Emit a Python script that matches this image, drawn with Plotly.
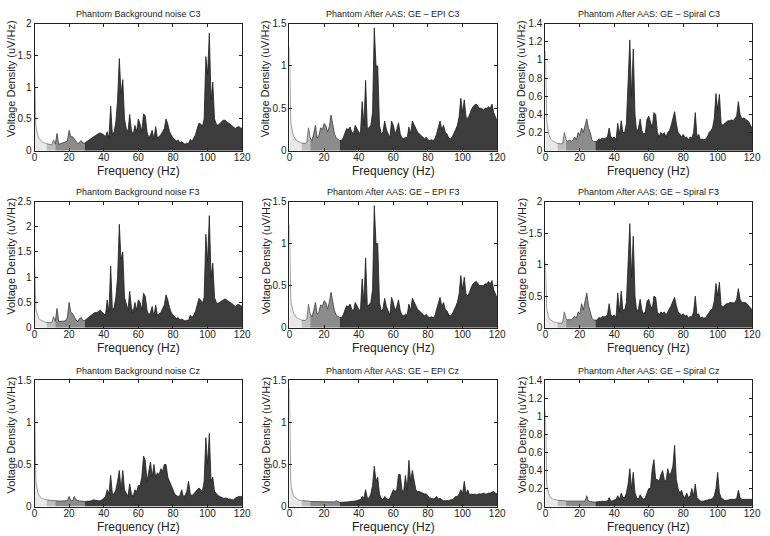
import plotly.graph_objects as go

W, H = 770, 536

# Frequency grid (Hz): finer near 0 Hz, 1 Hz steps from 4 Hz to 120 Hz
FREQ_LOW = [0, 0.25, 0.5, 0.75, 1, 1.5, 2, 2.5, 3, 3.5]
FREQ = FREQ_LOW + list(range(4, 121))

# ---- spectra (uV/Hz) ----
bg_c3 = [1.38, 0.75, 0.52, 0.42, 0.36, 0.28, 0.23, 0.2, 0.18, 0.16,
         0.15, 0.13, 0.12, 0.11, 0.1, 0.09, 0.09, 0.17, 0.1, 0.27,
         0.1, 0.11, 0.12, 0.12, 0.13, 0.15, 0.32, 0.22, 0.22, 0.19,
         0.15, 0.11, 0.14, 0.16, 0.12, 0.12, 0.14, 0.16, 0.17, 0.2,
         0.22, 0.24, 0.25, 0.27, 0.28, 0.27, 0.25, 0.22, 0.3, 0.2,
         0.7, 0.25, 0.3, 0.45, 0.8, 1.45, 0.9, 1.12, 0.5, 0.35,
         0.3, 0.57, 0.32, 0.25, 0.4, 0.3, 0.5, 0.42, 0.3, 0.58,
         0.55, 0.3, 0.2, 0.25, 0.32, 0.18, 0.38, 0.2, 0.22, 0.25,
         0.3, 0.35, 0.5, 0.42, 0.3, 0.25, 0.2, 0.18, 0.15, 0.17,
         0.12, 0.14, 0.12, 0.1, 0.12, 0.11, 0.18, 0.15, 0.2, 0.25,
         0.35, 0.43, 0.42, 0.38, 0.5, 1.48, 1.2, 1.85, 0.8, 1.08,
         0.5, 0.42, 0.4, 0.42, 0.45, 0.48, 0.48, 0.46, 0.44, 0.42,
         0.4, 0.37, 0.35, 0.37, 0.38, 0.36, 0.35]

epi_c3 = [1.22, 0.7, 0.45, 0.35, 0.3, 0.23, 0.2, 0.17, 0.15, 0.13,
          0.12, 0.11, 0.1, 0.09, 0.085, 0.085, 0.1, 0.27, 0.15, 0.12,
          0.2, 0.3, 0.15, 0.18, 0.27, 0.25, 0.32, 0.3, 0.22, 0.28,
          0.42, 0.3, 0.2, 0.15, 0.13, 0.12, 0.12, 0.15, 0.2, 0.26,
          0.25, 0.28, 0.22, 0.2, 0.3, 0.25, 0.22, 0.2, 0.58, 0.3,
          0.83, 0.25, 0.27, 0.3, 0.45, 1.45, 1.0, 1.0, 0.3, 0.2,
          0.22, 0.35, 0.25, 0.2, 0.15, 0.35, 0.3, 0.2, 0.25, 0.33,
          0.2, 0.15, 0.14, 0.16, 0.15, 0.28, 0.2, 0.35, 0.3, 0.25,
          0.22, 0.2, 0.18, 0.15, 0.14, 0.16, 0.13, 0.12, 0.13, 0.12,
          0.14, 0.2, 0.28, 0.35, 0.25, 0.3, 0.22, 0.2, 0.15, 0.14,
          0.16, 0.2, 0.25, 0.3, 0.4, 0.62, 0.45, 0.6, 0.4, 0.38,
          0.42, 0.48, 0.52, 0.54, 0.55, 0.52, 0.5, 0.5, 0.48, 0.5,
          0.5, 0.52, 0.5, 0.55, 0.45, 0.4, 0.35]

spiral_c3 = [1.1, 0.6, 0.45, 0.35, 0.3, 0.22, 0.18, 0.15, 0.13, 0.12,
             0.11, 0.1, 0.09, 0.08, 0.075, 0.075, 0.08, 0.2, 0.12, 0.1,
             0.12, 0.1, 0.12, 0.15, 0.12, 0.2, 0.17, 0.25, 0.2, 0.28,
             0.35, 0.25, 0.2, 0.12, 0.1, 0.1, 0.1, 0.13, 0.12, 0.14,
             0.13, 0.14, 0.15, 0.25, 0.15, 0.14, 0.15, 0.12, 0.3, 0.18,
             0.33, 0.2, 0.2, 0.3, 0.7, 1.22, 0.6, 1.12, 0.4, 0.2,
             0.25, 0.35, 0.22, 0.18, 0.2, 0.35, 0.38, 0.3, 0.25, 0.42,
             0.4, 0.2, 0.15, 0.2, 0.18, 0.2, 0.15, 0.2, 0.22, 0.28,
             0.35, 0.43, 0.3, 0.2, 0.18, 0.15, 0.18, 0.14, 0.15, 0.12,
             0.15, 0.14, 0.2, 0.42, 0.15, 0.18, 0.12, 0.13, 0.12, 0.13,
             0.15, 0.2, 0.22, 0.25, 0.35, 0.63, 0.45, 0.62, 0.3, 0.28,
             0.3, 0.32, 0.33, 0.33, 0.34, 0.33, 0.35, 0.38, 0.54, 0.4,
             0.35, 0.36, 0.35, 0.33, 0.32, 0.28, 0.25]

bg_f3 = [1.33, 0.7, 0.5, 0.4, 0.33, 0.26, 0.21, 0.18, 0.16, 0.15,
         0.14, 0.12, 0.11, 0.1, 0.1, 0.09, 0.1, 0.22, 0.12, 0.38,
         0.12, 0.12, 0.13, 0.13, 0.14, 0.2, 0.5, 0.3, 0.28, 0.2,
         0.15, 0.12, 0.18, 0.2, 0.14, 0.14, 0.17, 0.2, 0.22, 0.25,
         0.28, 0.3, 0.3, 0.32, 0.35, 0.3, 0.28, 0.25, 0.55, 0.3,
         1.22, 0.35, 0.4, 0.6, 1.0, 2.05, 1.35, 1.5, 0.6, 0.45,
         0.35, 0.72, 0.4, 0.3, 0.5, 0.35, 0.55, 0.5, 0.35, 0.68,
         0.62, 0.35, 0.25, 0.3, 0.42, 0.22, 0.45, 0.25, 0.28, 0.3,
         0.38, 0.45, 0.65, 0.55, 0.4, 0.3, 0.25, 0.22, 0.18, 0.2,
         0.15, 0.17, 0.15, 0.13, 0.15, 0.14, 0.25, 0.2, 0.25, 0.32,
         0.45, 0.58, 0.55, 0.48, 0.6, 1.85, 1.3, 2.22, 1.0, 1.28,
         0.6, 0.5, 0.48, 0.5, 0.52, 0.55, 0.57, 0.55, 0.52, 0.5,
         0.48, 0.45, 0.42, 0.45, 0.46, 0.44, 0.42]

epi_f3 = [1.22, 0.68, 0.45, 0.35, 0.3, 0.23, 0.2, 0.17, 0.15, 0.13,
          0.12, 0.11, 0.1, 0.09, 0.085, 0.085, 0.1, 0.28, 0.16, 0.13,
          0.2, 0.3, 0.16, 0.18, 0.27, 0.25, 0.32, 0.3, 0.22, 0.3,
          0.42, 0.3, 0.2, 0.15, 0.13, 0.12, 0.12, 0.15, 0.2, 0.26,
          0.25, 0.28, 0.22, 0.2, 0.3, 0.25, 0.22, 0.2, 0.58, 0.3,
          0.83, 0.25, 0.27, 0.3, 0.45, 1.45, 1.0, 1.0, 0.3, 0.2,
          0.22, 0.35, 0.25, 0.2, 0.15, 0.36, 0.3, 0.2, 0.25, 0.33,
          0.2, 0.15, 0.14, 0.16, 0.15, 0.28, 0.2, 0.35, 0.3, 0.25,
          0.22, 0.2, 0.18, 0.15, 0.14, 0.16, 0.13, 0.12, 0.13, 0.12,
          0.14, 0.22, 0.3, 0.36, 0.25, 0.3, 0.22, 0.2, 0.15, 0.14,
          0.16, 0.2, 0.25, 0.3, 0.4, 0.62, 0.45, 0.6, 0.4, 0.38,
          0.42, 0.48, 0.52, 0.54, 0.55, 0.52, 0.5, 0.5, 0.5, 0.52,
          0.52, 0.55, 0.52, 0.56, 0.45, 0.4, 0.35]

spiral_f3 = [1.05, 0.55, 0.4, 0.32, 0.27, 0.2, 0.16, 0.13, 0.12, 0.11,
             0.1, 0.09, 0.08, 0.075, 0.07, 0.07, 0.08, 0.25, 0.14, 0.12,
             0.13, 0.12, 0.15, 0.18, 0.15, 0.25, 0.22, 0.38, 0.28, 0.4,
             0.55, 0.35, 0.25, 0.15, 0.12, 0.12, 0.12, 0.16, 0.15, 0.18,
             0.17, 0.18, 0.2, 0.38, 0.2, 0.18, 0.2, 0.16, 0.55, 0.25,
             0.58, 0.28, 0.28, 0.4, 0.95, 1.65, 0.8, 1.45, 0.5, 0.25,
             0.3, 0.45, 0.28, 0.22, 0.25, 0.42, 0.45, 0.35, 0.3, 0.5,
             0.48, 0.25, 0.2, 0.25, 0.22, 0.25, 0.2, 0.25, 0.28, 0.35,
             0.42, 0.48, 0.35, 0.25, 0.22, 0.2, 0.22, 0.18, 0.2, 0.15,
             0.18, 0.17, 0.25, 0.5, 0.2, 0.22, 0.15, 0.17, 0.15, 0.16,
             0.2, 0.25, 0.28, 0.3, 0.42, 0.7, 0.5, 0.72, 0.35, 0.33,
             0.36, 0.38, 0.38, 0.4, 0.4, 0.39, 0.4, 0.45, 0.62, 0.45,
             0.4, 0.4, 0.4, 0.38, 0.35, 0.32, 0.28]

bg_cz = [1.35, 0.7, 0.45, 0.33, 0.27, 0.2, 0.16, 0.14, 0.12, 0.11,
         0.1, 0.09, 0.085, 0.08, 0.08, 0.075, 0.07, 0.07, 0.07, 0.065,
         0.065, 0.065, 0.065, 0.065, 0.065, 0.07, 0.12, 0.07, 0.07, 0.12,
         0.08, 0.07, 0.065, 0.065, 0.06, 0.06, 0.06, 0.065, 0.065, 0.07,
         0.08, 0.075, 0.07, 0.07, 0.07, 0.08, 0.1, 0.12, 0.2, 0.15,
         0.37, 0.15, 0.15, 0.2, 0.3, 0.43, 0.2, 0.43, 0.2, 0.15,
         0.12, 0.27, 0.15, 0.12, 0.2, 0.18, 0.25, 0.25, 0.35, 0.6,
         0.55, 0.3, 0.4, 0.53, 0.35, 0.5, 0.35, 0.4, 0.38, 0.45,
         0.42, 0.5, 0.5, 0.35, 0.3, 0.25, 0.18, 0.15, 0.13, 0.12,
         0.13, 0.2, 0.12, 0.13, 0.18, 0.3, 0.15, 0.13, 0.15, 0.18,
         0.2, 0.22, 0.2, 0.18, 0.3, 0.82, 0.5, 0.87, 0.3, 0.35,
         0.18, 0.15, 0.13, 0.12, 0.11, 0.1, 0.1, 0.1, 0.09, 0.09,
         0.08, 0.08, 0.1, 0.11, 0.12, 0.12, 0.12]

epi_cz = [1.4, 0.65, 0.42, 0.3, 0.24, 0.18, 0.15, 0.12, 0.11, 0.1,
          0.09, 0.08, 0.075, 0.07, 0.07, 0.065, 0.065, 0.065, 0.06, 0.06,
          0.06, 0.06, 0.06, 0.055, 0.055, 0.06, 0.06, 0.06, 0.055, 0.06,
          0.06, 0.06, 0.055, 0.07, 0.055, 0.05, 0.05, 0.05, 0.055, 0.055,
          0.055, 0.06, 0.06, 0.06, 0.065, 0.07, 0.08, 0.08, 0.12, 0.1,
          0.2, 0.1, 0.1, 0.15, 0.25, 0.48, 0.3, 0.35, 0.15, 0.1,
          0.08, 0.12, 0.1, 0.08, 0.1, 0.15, 0.2, 0.18, 0.2, 0.38,
          0.38, 0.2, 0.18, 0.37, 0.2, 0.55, 0.3, 0.43, 0.3, 0.2,
          0.18, 0.18, 0.17, 0.16, 0.15, 0.15, 0.12, 0.1, 0.1, 0.09,
          0.1, 0.12, 0.09, 0.1, 0.08, 0.07, 0.07, 0.07, 0.07, 0.08,
          0.08, 0.1, 0.12, 0.12, 0.15, 0.2, 0.15, 0.3, 0.15, 0.2,
          0.14, 0.15, 0.14, 0.15, 0.14, 0.15, 0.15, 0.15, 0.16, 0.15,
          0.15, 0.16, 0.16, 0.17, 0.18, 0.16, 0.15]

spiral_cz = [1.07, 0.5, 0.35, 0.27, 0.22, 0.17, 0.14, 0.12, 0.1, 0.09,
             0.085, 0.08, 0.075, 0.07, 0.07, 0.065, 0.065, 0.065, 0.06, 0.06,
             0.06, 0.06, 0.06, 0.055, 0.055, 0.06, 0.06, 0.06, 0.055, 0.06,
             0.12, 0.06, 0.055, 0.05, 0.05, 0.05, 0.05, 0.055, 0.055, 0.06,
             0.055, 0.06, 0.06, 0.1, 0.06, 0.065, 0.07, 0.08, 0.12, 0.08,
             0.15, 0.1, 0.1, 0.15, 0.25, 0.42, 0.2, 0.38, 0.15, 0.1,
             0.08, 0.13, 0.1, 0.08, 0.1, 0.15, 0.2, 0.2, 0.42, 0.52,
             0.3, 0.3, 0.28, 0.35, 0.4, 0.3, 0.28, 0.42, 0.35, 0.38,
             0.45, 0.68, 0.3, 0.2, 0.15, 0.18, 0.12, 0.1, 0.15, 0.1,
             0.12, 0.2, 0.12, 0.25, 0.1, 0.08, 0.06, 0.06, 0.06, 0.07,
             0.07, 0.08, 0.08, 0.09, 0.12, 0.2, 0.38, 0.15, 0.1, 0.08,
             0.07, 0.07, 0.07, 0.08, 0.08, 0.08, 0.08, 0.09, 0.18, 0.1,
             0.08, 0.08, 0.08, 0.08, 0.08, 0.08, 0.08]

TITLES = ["Phantom Background noise C3", "Phantom After AAS: GE \u2013 EPI C3", "Phantom After AAS: GE \u2013 Spiral C3",
          "Phantom Background noise F3", "Phantom After AAS: GE \u2013 EPI F3", "Phantom After AAS: GE \u2013 Spiral F3",
          "Phantom Background noise Cz", "Phantom After AAS: GE \u2013 EPI Cz", "Phantom After AAS: GE \u2013 Spiral Cz"]
SERIES = [bg_c3, epi_c3, spiral_c3, bg_f3, epi_f3, spiral_f3, bg_cz, epi_cz, spiral_cz]
YMAX = [2, 1.5, 1.4, 2.5, 1.5, 2, 1.5, 1.5, 1.4]
YDTICK = [0.5, 0.5, 0.2, 0.5, 0.5, 0.5, 0.5, 0.5, 0.2]
XTICKS = [0, 20, 40, 60, 80, 100, 120]

# frequency bands and their fill shades
BAND_EDGES = [0, 7, 12, 29, 120]
BAND_COLORS = ["#e8e8e8", "#bebebe", "#8c8c8c", "#3c3c3c"]
LINE_COLORS = ["#8a8a8a", "#5a5a5a", "#3a3a3a", "#1e1e1e"]

for s in SERIES:
    assert len(s) == len(FREQ), len(s)

COL_PX = [(32, 243), (291, 502), (551, 761)]
ROW_PX = [(18, 148), (200, 329), (383, 512)]
FONT = "Liberation Sans, Arial, sans-serif"

def px_x(p):
    return p / W

def px_y(p):
    return 1 - p / H

fig = go.Figure()
annotations = []
layout_axes = {}

for i, (title, vals) in enumerate(zip(TITLES, SERIES)):
    r, c = divmod(i, 3)
    sfx = "" if i == 0 else str(i + 1)
    xa, ya = "x" + sfx, "y" + sfx
    for b in range(4):
        lo, hi = BAND_EDGES[b], BAND_EDGES[b + 1]
        idx = [k for k, f in enumerate(FREQ) if lo <= f <= hi]
        fig.add_trace(go.Scatter(
            x=[FREQ[k] for k in idx], y=[vals[k] for k in idx],
            mode="lines", fill="tozeroy", fillcolor=BAND_COLORS[b],
            line=dict(width=0.8, color=LINE_COLORS[b]),
            xaxis=xa, yaxis=ya, showlegend=False, hoverinfo="skip"))

    x0, x1 = COL_PX[c]
    y0, y1 = ROW_PX[r]
    common = dict(showline=True, mirror="ticks", linecolor="#222", linewidth=1,
                  ticks="inside", ticklen=3, tickcolor="#222", showgrid=False,
                  zeroline=False, tickfont=dict(family=FONT, size=10, color="#222"))
    layout_axes["xaxis" + sfx] = dict(domain=[px_x(x0), px_x(x1)], range=[0, 120],
                                       tickvals=XTICKS, anchor=ya, ticklabelstandoff=-3, **common)
    layout_axes["yaxis" + sfx] = dict(domain=[px_y(y1), px_y(y0)], range=[0, YMAX[i]],
                                       dtick=YDTICK[i], tick0=0, anchor=xa, **common)

    cx = (x0 + x1) / 2
    annotations.append(dict(text=title, x=px_x(cx), y=px_y(y0 - 10), xref="paper", yref="paper",
                            showarrow=False, xanchor="center", yanchor="middle",
                            font=dict(family=FONT, size=9, color="#222")))
    annotations.append(dict(text="Frequency (Hz)", x=px_x(cx), y=px_y(y1 + 21), xref="paper", yref="paper",
                            showarrow=False, xanchor="center", yanchor="middle",
                            font=dict(family=FONT, size=12, color="#222")))
    annotations.append(dict(text="Voltage Density (uV/Hz)", x=px_x(x0 - 24), y=px_y((y0 + y1) / 2 - 9),
                            xref="paper", yref="paper", textangle=-90,
                            showarrow=False, xanchor="center", yanchor="middle",
                            font=dict(family=FONT, size=11, color="#222")))

fig.update_layout(width=W, height=H, margin=dict(l=0, r=0, t=0, b=0),
                  paper_bgcolor="white", plot_bgcolor="white",
                  annotations=annotations, **layout_axes)

fig.write_html("out.html")
